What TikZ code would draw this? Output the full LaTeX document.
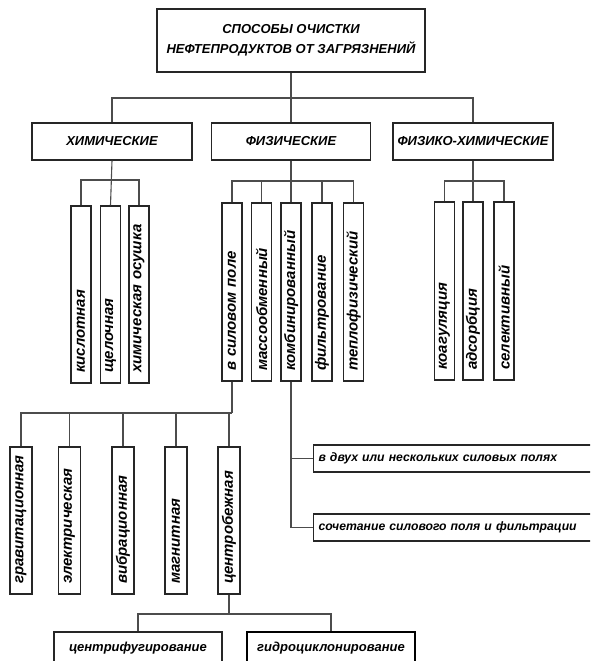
\documentclass[tikz,border=0pt]{standalone}
\usepackage{fontspec}
\setmainfont{Liberation Sans}
\newcommand{\LinkColor}{black!70}
\newcommand{\BoxColor}{black!85}
\begin{document}
\begin{tikzpicture}[x=1pt,y=1pt,line join=miter,
  hbox/.style={draw=\BoxColor,line width=1.1pt,fill=white,inner sep=2pt,align=center,
    font=\fontsize{13}{20}\selectfont\bfseries\itshape},
  vbox/.style={draw=\BoxColor,line width=1.1pt,rotate=90,minimum height=20pt,
    inner ysep=0pt,inner xsep=10pt,text width=#1,align=left,
    font=\fontsize{15}{17}\selectfont\bfseries\itshape},
  sbox/.style={draw=\BoxColor,line width=1.1pt,anchor=west,minimum height=27pt,
    inner xsep=5pt,inner ysep=0pt,text width=280pt,align=left,
    font=\fontsize{12.2}{15}\selectfont\bfseries\itshape},
  link/.style={draw=\LinkColor,line width=1.1pt}]
  \clip (0,0) rectangle (590,661);
  % top and categories
  \node[hbox,minimum width=268pt,minimum height=63pt] (top) at (291,620.5)
    {СПОСОБЫ ОЧИСТКИ\\НЕФТЕПРОДУКТОВ ОТ ЗАГРЯЗНЕНИЙ};
  \node[hbox,minimum width=160pt,minimum height=37pt] (chem) at (112,519.5) {ХИМИЧЕСКИЕ};
  \node[hbox,minimum width=159pt,minimum height=37pt] (phys) at (291,519.5) {ФИЗИЧЕСКИЕ};
  \node[hbox,minimum width=160pt,minimum height=37pt] (physchem) at (473,519.5) {ФИЗИКО-ХИМИЧЕСКИЕ};
  \coordinate (b1) at (291,563);
  \draw[link] (top.south) -- (phys.north);
  \draw[link] (chem.north) |- (b1);
  \draw[link] (physchem.north) |- (b1);
  % chemical
  \foreach \x/\n/\t in {81/kisl/кислотная,110.5/shchel/щелочная,139/khos/химическая осушка}
    \node[vbox=157pt] (\n) at (\x,366.5) {\t};
  \coordinate (b2) at (110.5,481);
  \draw[link] (chem.south) -- (shchel.east);
  \foreach \n in {kisl,khos}
    \draw[link] (\n.east) |- (b2);
  % physical
  \foreach \x/\n/\t in {232/vsil/в силовом поле,261.5/massob/массообменный,291/kombin/комбинированный,
    322/filtr/фильтрование,353.5/teplo/теплофизический}
    \node[vbox=158pt] (\n) at (\x,369) {\t};
  \coordinate (b3) at (291,480);
  \draw[link] (phys.south) -- (kombin.east);
  \foreach \n in {vsil,massob,filtr,teplo}
    \draw[link] (\n.east) |- (b3);
  % physico-chemical
  \foreach \x/\n/\t in {444.5/koag/коагуляция,473/adsorb/адсорбция,504/selekt/селективный}
    \node[vbox=158pt] (\n) at (\x,370) {\t};
  \coordinate (b4) at (473,480);
  \draw[link] (physchem.south) -- (adsorb.east);
  \foreach \n in {koag,selekt}
    \draw[link] (\n.east) |- (b4);
  % force field
  \foreach \x/\n/\t in {21/grav/гравитационная,69.5/elektr/электрическая,123/vibr/вибрационная,
    176/magn/магнитная,229/centr/центробежная}
    \node[vbox=127pt,minimum height=22pt] (\n) at (\x,140.5) {\t};
  \coordinate (b5) at (232,248);
  \draw[link] (vsil.west) -- (b5);
  \foreach \n in {grav,elektr,vibr,magn,centr}
    \draw[link] (\n.east) |- (b5);
  % combined
  \node[sbox] (dvuh) at (313,202.5) {в двух или нескольких силовых полях};
  \node[sbox] (sochet) at (313,133.5) {сочетание силового поля и фильтрации};
  \draw[link] (kombin.west) |- (dvuh.west);
  \draw[link] (kombin.west) |- (sochet.west);
  % centrifugal
  \node[hbox,minimum width=168pt,minimum height=32pt] (cfug) at (138,13) {центрифугирование};
  \node[hbox,minimum width=168pt,minimum height=32pt,line width=1.8pt,draw=black] (gcycl) at (331,13)
    {гидроциклонирование};
  \coordinate (b6) at (229,47);
  \draw[link] (centr.west) -- (b6);
  \draw[link] (cfug.north) |- (b6);
  \draw[link] (gcycl.north) |- (b6);
\end{tikzpicture}
\end{document}
